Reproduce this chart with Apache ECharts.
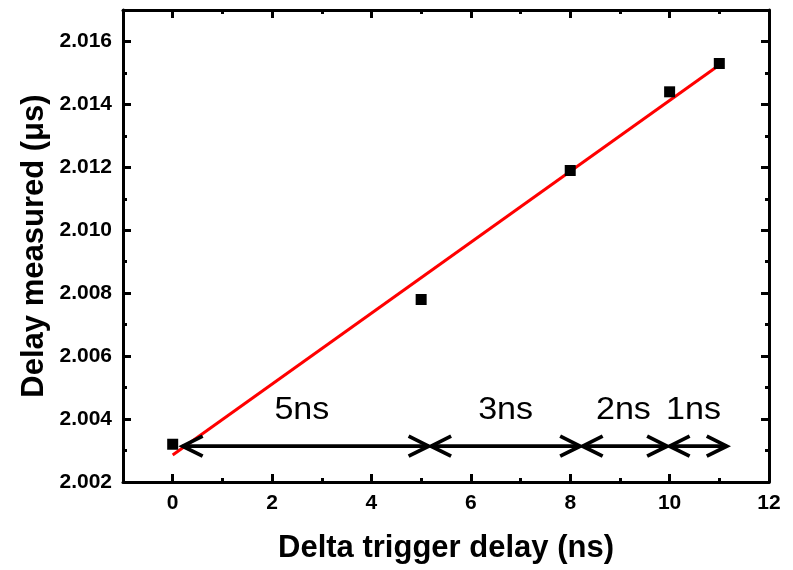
<!DOCTYPE html>
<html>
<head>
<meta charset="utf-8">
<script src="https://cdn.jsdelivr.net/npm/echarts@6/dist/echarts.min.js"></script>
<style>
  html, body { margin: 0; padding: 0; background: #fff; }
  #chart { width: 793px; height: 570px; }
</style>
</head>
<body>
<div id="chart"></div>
<script>
// ---- data ----
const delayX = [0, 5, 8, 10, 11];                       // Delta trigger delay (ns)
const delayY = [2.0032, 2.0078, 2.0119, 2.0144, 2.0153]; // Delay measured (µs)
const fitX = [0, 11];                                   // linear fit end points
const fitY = [2.00286, 2.01525];
const arrowStart = [0.2, 5.2, 8.25, 10.0];
const arrowEnd = [5.15, 8.2, 9.95, 11.15];
const arrowY = [2.00314, 2.00314, 2.00314, 2.00314];
const stepLabels = ['5ns', '3ns', '2ns', '1ns'];
const stepLabelX = [2.6, 6.7, 9.07, 10.48];
const stepLabelY = [2.00428, 2.00428, 2.00428, 2.00428];
const xMin = -1, xMax = 12, xMajor = 2, xLabelMin = 0;
const yMin = 2.002, yMax = 2.017, yMajor = 0.002, yLabelMax = 2.016;

// ---- chart ----
const FONT = 'Liberation Sans, Arial, sans-serif';
const BLACK = '#000';
const axisLineStyle = { color: BLACK, width: 3 };
const tickStyle = { color: BLACK, width: 3 };

const chart = echarts.init(document.getElementById('chart'), null, { renderer: 'canvas' });

const gridL = 123, gridR = 24, gridT = 10, gridB = 88;
const plotW = 793 - gridL - gridR, plotH = 570 - gridT - gridB;
const grid1Left = gridL + plotW * (xLabelMin - xMin) / (xMax - xMin);
const grid2Top = gridT + plotH * (yMax - yLabelMax) / (yMax - yMin);

function minorX(pos) {
  return {
    gridIndex: 0, type: 'value', min: xMin, max: xMax, interval: 1, position: pos,
    axisLine: { show: true, onZero: false, lineStyle: axisLineStyle },
    axisTick: { show: true, inside: true, length: 4, lineStyle: tickStyle },
    axisLabel: { show: false }, splitLine: { show: false }
  };
}
function majorX(pos, labels) {
  return {
    gridIndex: 1, type: 'value', min: xLabelMin, max: xMax, interval: xMajor, position: pos,
    axisLine: { show: false, onZero: false },
    axisTick: { show: true, inside: true, length: 8, lineStyle: tickStyle },
    axisLabel: { show: labels, margin: 11, color: BLACK, fontFamily: FONT, fontWeight: 'bold', fontSize: 21 },
    splitLine: { show: false }
  };
}
function minorY(pos) {
  return {
    gridIndex: 0, type: 'value', min: yMin, max: yMax, interval: 0.001, position: pos,
    axisLine: { show: true, onZero: false, lineStyle: axisLineStyle },
    axisTick: { show: true, inside: true, length: 4, lineStyle: tickStyle },
    axisLabel: { show: false }, splitLine: { show: false }
  };
}
function majorY(pos, labels) {
  return {
    gridIndex: 2, type: 'value', min: yMin, max: yLabelMax, interval: yMajor, position: pos,
    axisLine: { show: false, onZero: false },
    axisTick: { show: true, inside: true, length: 8, lineStyle: tickStyle },
    axisLabel: { show: labels, margin: 11, color: BLACK, fontFamily: FONT, fontWeight: 'bold', fontSize: 21,
                 formatter: v => v.toFixed(3) },
    splitLine: { show: false }
  };
}

const xBottom = minorX('bottom');
xBottom.name = 'Delta trigger delay (ns)';
xBottom.nameLocation = 'middle';
xBottom.nameGap = 51;
xBottom.nameTextStyle = { color: BLACK, fontFamily: FONT, fontWeight: 'bold', fontSize: 31 };

const yLeft = minorY('left');
yLeft.name = 'Delay measured (\u03bcs)';
yLeft.nameLocation = 'middle';
yLeft.nameGap = 73;
yLeft.nameTextStyle = { color: BLACK, fontFamily: FONT, fontWeight: 'bold', fontSize: 31 };

const arrowData = arrowStart.map((s, i) => [s, arrowEnd[i], arrowY[i]]);
const labelData = stepLabels.map((t, i) => [stepLabelX[i], stepLabelY[i], t]);

const option = {
  animation: false,
  backgroundColor: '#fff',
  grid: [
    { left: gridL, right: gridR, top: gridT, bottom: gridB },
    { left: grid1Left, right: gridR, top: gridT, bottom: gridB },
    { left: gridL, right: gridR, top: grid2Top, bottom: gridB }
  ],
  xAxis: [
    xBottom, minorX('top'),
    majorX('bottom', true), majorX('top', false),
    { gridIndex: 2, type: 'value', show: false, min: 0, max: 1 }
  ],
  yAxis: [
    yLeft, minorY('right'),
    { gridIndex: 1, type: 'value', show: false, min: 0, max: 1 },
    majorY('left', true), majorY('right', false)
  ],
  series: [
    {
      type: 'line', xAxisIndex: 0, yAxisIndex: 0, z: 3,
      data: fitX.map((x, i) => [x, fitY[i]]),
      showSymbol: false, symbol: 'none',
      lineStyle: { color: '#ff0000', width: 3 }
    },
    {
      type: 'scatter', xAxisIndex: 0, yAxisIndex: 0, z: 4,
      data: delayX.map((x, i) => [x, delayY[i]]),
      symbol: 'rect', symbolSize: 11,
      itemStyle: { color: BLACK, opacity: 1 }
    },
    {
      type: 'custom', xAxisIndex: 0, yAxisIndex: 0, z: 5,
      data: arrowData,
      encode: { x: [0, 1], y: 2 },
      renderItem: function (params, api) {
        const a = api.coord([api.value(0), api.value(2)]);
        const b = api.coord([api.value(1), api.value(2)]);
        const dx = 20, dy = 10;
        const st = { stroke: BLACK, lineWidth: 3.8, fill: null, lineJoin: 'miter' };
        return {
          type: 'group',
          children: [
            { type: 'line', shape: { x1: a[0], y1: a[1], x2: b[0], y2: b[1] }, style: st },
            { type: 'polyline', shape: { points: [[a[0] + dx, a[1] - dy], [a[0], a[1]], [a[0] + dx, a[1] + dy]] }, style: st },
            { type: 'polyline', shape: { points: [[b[0] - dx, b[1] - dy], [b[0], b[1]], [b[0] - dx, b[1] + dy]] }, style: st }
          ]
        };
      }
    },
    {
      type: 'custom', xAxisIndex: 0, yAxisIndex: 0, z: 5,
      data: labelData,
      encode: { x: 0, y: 1 },
      renderItem: function (params, api) {
        const p = api.coord([api.value(0), api.value(1)]);
        return {
          type: 'text', x: p[0], y: p[1], scaleX: 1.1,
          style: { text: labelData[params.dataIndex][2], fill: BLACK, fontFamily: FONT, fontSize: 31,
                   align: 'center', verticalAlign: 'middle' }
        };
      }
    }
  ]
};
chart.setOption(option);
</script>
</body>
</html>
